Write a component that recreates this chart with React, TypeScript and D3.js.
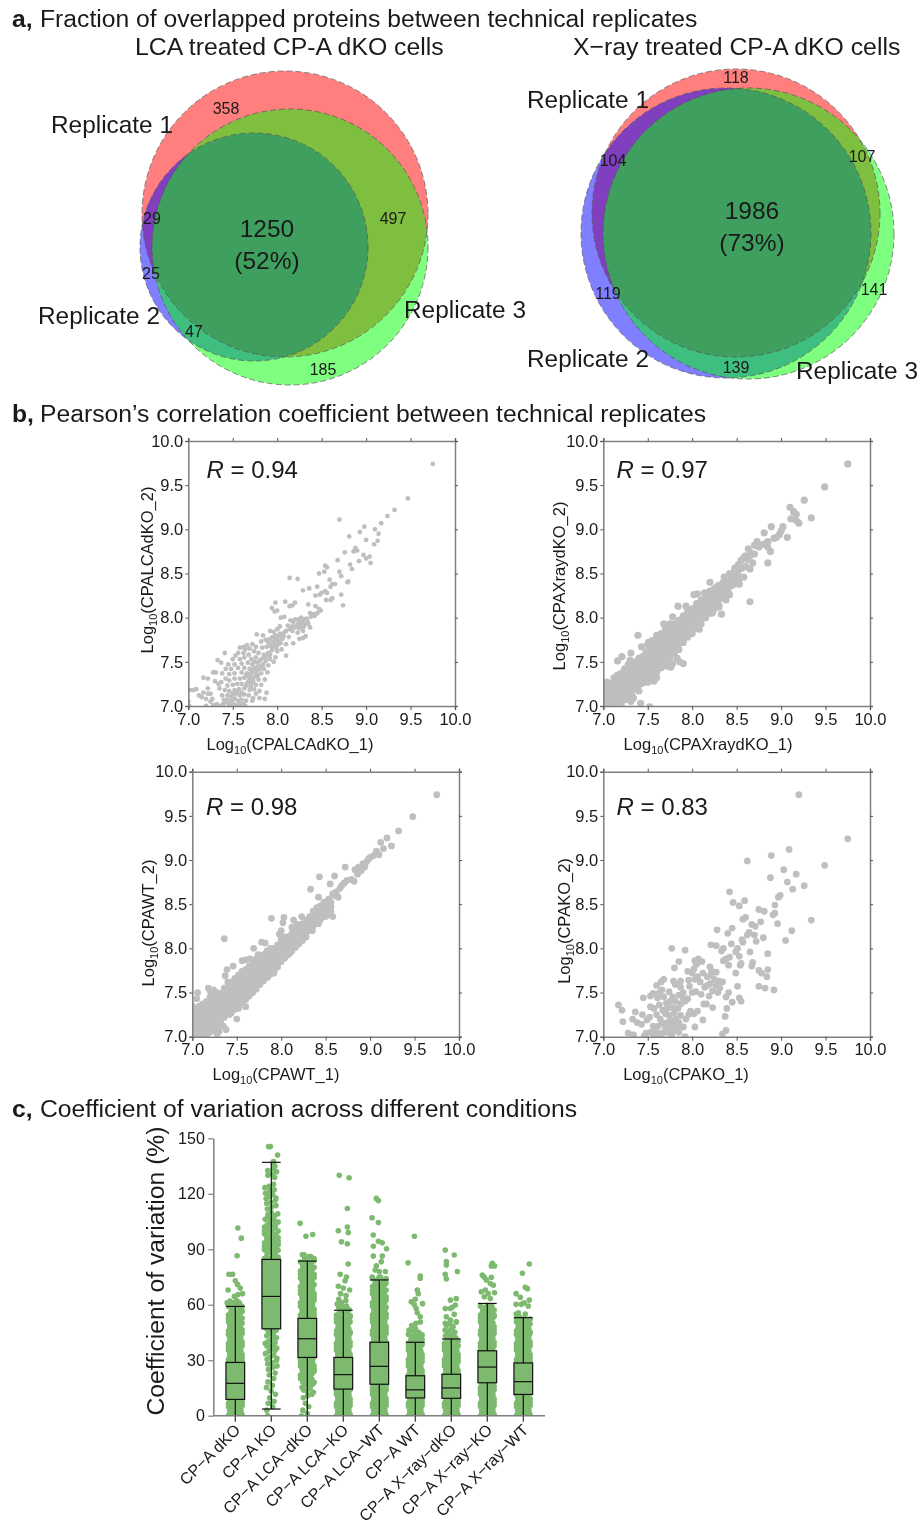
import React, { useRef, useLayoutEffect } from 'react'
import * as d3 from 'd3'

const FONT = '"Liberation Sans", Arial, sans-serif'
const TEXT = '#1a1a1a'
const AXIS = '#7f7f7f'

// ---- panel a
const vennFills = ['#ff0000', '#0000ff', '#00ff00']
const lcaCircles = [[285, 214, 143], [254, 247, 114], [290, 247, 138]]
const xrayCircles = [[736, 213, 144], [726, 233, 145], [748.5, 233.5, 145.5]]
const lcaCounts = ['358', '29', '497', '25', '47', '185']
const lcaCountSpots = [[226, 114], [152, 224], [393, 224], [151, 279], [194, 337], [323, 375]]
const xrayCounts = ['118', '104', '107', '119', '141', '139']
const xrayCountSpots = [[736, 83], [613, 166], [862, 162], [608, 299], [874, 295], [736, 373]]

// ---- panel b
const scatterTicks = [7, 7.5, 8, 8.5, 9, 9.5, 10]

const lcaPoints = [
  [9.75,9.74],[9.47,9.35],[9.32,9.22],[9.24,9.15],[9.17,9.07],[8.7,9.11],[8.98,9.03],[9.1,9.0],[8.93,8.97],[9.14,8.95],
  [8.81,8.92],[9.0,8.88],[9.13,8.87],[9.09,8.83],[8.88,8.79],[8.9,8.76],[8.86,8.75],[8.76,8.74],[8.97,8.71],[9.04,8.69],
  [9.0,8.67],[8.68,8.65],[8.92,8.64],[8.82,8.6],[9.05,8.62],[8.54,8.59],[8.56,8.57],[8.84,8.55],[8.53,8.52],[8.7,8.52],
  [8.72,8.47],[8.47,8.5],[8.14,8.45],[8.23,8.44],[8.59,8.43],[8.79,8.4],[8.8,8.41],[8.62,8.38],[8.65,8.38],[8.6,8.35],
  [8.36,8.33],[8.45,8.35],[8.29,8.31],[8.72,8.26],[8.54,8.3],[8.56,8.28],[8.5,8.28],[8.43,8.25],[8.48,8.26],[8.62,8.22],
  [8.55,8.2],[8.6,8.2],[8.74,8.14],[8.09,8.18],[7.98,8.17],[8.2,8.17],[8.17,8.14],[8.14,8.13],[8.35,8.15],[8.43,8.13],
  [7.94,8.11],[8.0,8.08],[7.97,8.07],[8.47,8.1],[8.49,8.08],[8.45,8.05],[8.4,8.04],[8.37,8.05],[8.08,8.01],[8.04,8.0],
  [8.42,8.02],[8.38,8.01],[8.33,7.99],[8.3,7.98],[8.27,8.0],[8.2,7.98],[8.15,7.97],[8.18,7.95],[8.24,7.94],[8.28,7.95],
  [8.34,7.96],[8.12,7.91],[8.22,7.91],[8.27,7.91],[8.32,7.93],[8.37,7.89],[8.25,7.88],[8.03,7.9],[8.0,7.87],[7.96,7.84],
  [7.92,7.85],[8.03,7.82],[8.08,7.83],[8.17,7.85],[8.23,7.83],[8.29,7.85],[8.04,7.79],[8.01,7.79],[7.98,7.8],[7.95,7.78],
  [7.77,7.81],[7.84,7.8],[7.87,7.75],[7.92,7.76],[7.99,7.75],[8.06,7.76],[8.13,7.78],[8.25,7.76],[8.29,7.77],[8.32,7.79],
  [7.82,7.73],[7.9,7.72],[7.95,7.72],[8.04,7.71],[8.1,7.7],[8.18,7.71],[7.72,7.7],[7.66,7.69],[7.62,7.67],[7.58,7.66],
  [7.64,7.64],[7.69,7.65],[7.76,7.67],[7.83,7.66],[7.88,7.67],[7.92,7.68],[7.99,7.66],[8.05,7.64],[8.0,7.62],[7.94,7.63],
  [7.41,7.6],[7.53,7.57],[7.56,7.6],[7.62,7.6],[7.68,7.58],[7.74,7.62],[7.79,7.6],[7.85,7.58],[7.9,7.6],[8.1,7.57],
  [7.98,7.55],[7.92,7.53],[7.33,7.52],[7.37,7.49],[7.5,7.53],[7.58,7.53],[7.63,7.55],[7.71,7.53],[7.76,7.55],[7.82,7.53],
  [7.87,7.51],[7.96,7.5],[7.45,7.47],[7.52,7.47],[7.6,7.48],[7.67,7.49],[7.72,7.47],[7.78,7.49],[7.84,7.47],[7.9,7.46],
  [7.28,7.38],[7.31,7.38],[7.42,7.42],[7.48,7.42],[7.56,7.43],[7.63,7.43],[7.69,7.42],[7.75,7.43],[7.8,7.42],[7.85,7.42],
  [7.38,7.37],[7.46,7.36],[7.52,7.37],[7.6,7.38],[7.66,7.37],[7.71,7.38],[7.76,7.37],[7.82,7.37],[7.89,7.38],[7.17,7.32],
  [7.22,7.31],[7.3,7.28],[7.34,7.25],[7.37,7.27],[7.42,7.31],[7.46,7.29],[7.52,7.31],[7.58,7.31],[7.63,7.32],[7.68,7.33],
  [7.72,7.31],[7.79,7.3],[7.86,7.3],[7.35,7.2],[7.44,7.23],[7.5,7.24],[7.55,7.25],[7.6,7.25],[7.66,7.26],[7.71,7.25],
  [7.76,7.24],[7.82,7.24],[7.88,7.15],[7.22,7.2],[7.41,7.18],[7.46,7.17],[7.52,7.18],[7.57,7.19],[7.63,7.2],[7.69,7.18],
  [7.74,7.19],[7.8,7.17],[7.38,7.12],[7.44,7.12],[7.48,7.11],[7.53,7.13],[7.58,7.12],[7.63,7.13],[7.68,7.12],[7.73,7.09],
  [7.76,7.14],[7.02,7.18],[7.06,7.18],[7.09,7.19],[7.12,7.12],[7.17,7.15],[7.22,7.14],[7.25,7.14],[7.15,7.1],[7.2,7.08],
  [7.27,7.08],[7.25,7.05],[7.0,7.05],[7.4,7.07],[7.44,7.07],[7.48,7.06],[7.52,7.08],[7.56,7.06],[7.6,7.07],[7.65,7.06],
  [7.28,7.01],[7.32,7.02],[7.36,7.0],[7.2,7.0],[7.42,7.04],[7.39,7.02],[7.46,7.02],[7.5,7.03],[7.54,7.01],[7.58,7.02],
  [7.62,7.02],[7.64,7.0],[7.54,7.0],[7.47,7.0],[7.01,7.0],[7.72,7.06],[7.86,7.08],[7.8,7.09],
  [7.5,7.14],[7.55,7.16],[7.6,7.15],[7.65,7.23],[7.7,7.22],[7.68,7.28],[7.73,7.28],[7.75,7.33],[7.78,7.34],[7.7,7.35],
  [7.65,7.34],[7.72,7.41],[7.77,7.4],[7.82,7.45],[7.78,7.44],[7.74,7.5],[7.8,7.51],[7.85,7.55],[7.88,7.56],[7.92,7.58],
  [7.95,7.66],[7.97,7.69],[8.01,7.7],[8.02,7.74],[8.05,7.8],[7.99,7.78],[7.97,7.74],[8.07,7.79],[8.1,7.85],[8.14,7.87],
  [8.17,7.9],[8.2,7.89],[8.24,7.98],[8.3,7.9],[8.35,7.93],
]

const xrayCore = [
  [7.0,[7.0,7.05,7.1,7.15,7.2,7.25]],[7.04,[7.02,7.07,7.12,7.17,7.22,7.27]],[7.08,[7.0,7.05,7.1,7.15,7.2,7.25]],
  [7.12,[7.02,7.07,7.12,7.17,7.22,7.27,7.32]],[7.16,[7.0,7.05,7.1,7.15,7.2,7.25,7.3,7.35]],[7.2,[7.02,7.07,7.12,7.17,7.22,7.27,7.32,7.37]],
  [7.24,[7.07,7.12,7.17,7.22,7.27,7.32,7.37,7.42]],[7.28,[7.12,7.17,7.22,7.27,7.32,7.37,7.42,7.47]],[7.32,[7.14,7.19,7.24,7.29,7.34,7.39,7.44,7.49]],
  [7.36,[7.2,7.25,7.3,7.35,7.4,7.45,7.5]],[7.4,[7.24,7.29,7.34,7.39,7.44,7.49,7.54]],[7.44,[7.26,7.31,7.36,7.41,7.46,7.51,7.56]],
  [7.48,[7.31,7.36,7.41,7.46,7.51,7.56,7.61]],[7.52,[7.36,7.41,7.46,7.51,7.56,7.61,7.66]],[7.56,[7.4,7.45,7.5,7.55,7.6,7.65,7.7]],
  [7.6,[7.44,7.49,7.54,7.59,7.64,7.69,7.74]],[7.64,[7.48,7.53,7.58,7.63,7.68,7.73,7.78]],[7.68,[7.52,7.57,7.62,7.67,7.72,7.77,7.82]],
  [7.72,[7.56,7.61,7.66,7.71,7.76,7.81,7.86]],[7.76,[7.6,7.65,7.7,7.75,7.8,7.85]],[7.8,[7.64,7.69,7.74,7.79,7.84,7.89]],
  [7.84,[7.68,7.73,7.78,7.83,7.88,7.93]],[7.88,[7.74,7.79,7.84,7.89,7.94,7.98]],[7.92,[7.79,7.84,7.89,7.94,7.99]],
  [7.96,[7.84,7.89,7.94,7.99,8.03]],[8.0,[7.88,7.93,7.98,8.03,8.07]],[8.04,[7.92,7.97,8.02,8.07,8.12]],
  [8.08,[7.96,8.01,8.06,8.11,8.16]],[8.12,[8.0,8.05,8.1,8.15,8.2]],[8.16,[8.06,8.11,8.16,8.21]],
  [8.2,[8.12,8.17,8.22,8.27]],[8.24,[8.15,8.2,8.25,8.3]],[8.28,[8.18,8.23,8.28,8.33]],[8.32,[8.22,8.27,8.32]],
  [8.36,[8.26,8.31,8.36]],[8.4,[8.3,8.35,8.4]],[8.44,[8.36,8.41,8.45]],[8.48,[8.38,8.43,8.48]],[8.52,[8.42,8.47,8.54]],
]
const xraySparse = [
  [9.75,9.74],[9.49,9.48],[9.34,9.13],[9.26,9.33],[9.2,9.07],[9.1,9.25],[9.14,9.2],[9.17,9.17],[9.11,9.12],[9.17,9.1],
  [9.07,8.91],[9.02,9.03],[9.0,8.98],[8.89,9.03],[8.98,8.94],[8.81,8.96],[8.73,8.86],[8.85,8.86],[8.92,8.9],[8.95,8.91],
  [8.8,8.83],[8.88,8.75],[8.85,8.8],[8.7,8.82],[8.63,8.78],[8.65,8.7],[8.85,8.62],[8.55,8.65],[8.6,8.7],[8.7,8.72],
  [8.75,8.8],[8.66,8.73],[8.62,8.66],[8.58,8.68],[8.56,8.56],[8.6,8.58],[8.65,8.55],[8.68,8.62],[8.52,8.6],[8.48,8.56],
  [8.65,8.18],[8.33,8.04],[8.23,8.06],[8.2,8.4],[8.36,8.46],[8.02,8.26],[8.06,8.27],[7.84,8.13],[7.93,8.13],[7.78,8.01],
  [7.68,7.93],[7.75,7.93],[7.39,7.8],[7.43,7.67],[7.51,7.72],[7.6,7.8],[7.21,7.56],[7.16,7.51],[7.31,7.6],[7.3,7.52],
  [7.9,7.48],[7.83,7.54],[7.86,7.5],[7.78,7.48],[7.72,7.45],[7.76,7.44],[7.6,7.32],[7.57,7.28],[7.4,7.17],[7.34,7.09],
  [7.31,7.05],[7.42,7.03],[7.52,6.99],[8.08,7.87],[8.28,8.35],[8.3,8.12],[8.38,8.2],[8.22,8.05],[8.14,8.28],[8.42,8.26],
  [8.47,8.52],[8.53,8.38],[8.58,8.46],[8.42,8.5],
  [7.5,7.7],[7.55,7.74],[7.6,7.78],[7.65,7.82],[7.7,7.88],[7.75,7.9],[7.8,7.93],[7.85,7.97],[7.9,8.02],[7.95,8.07],
  [8.0,8.1],[8.05,8.16],[8.1,8.2],[8.15,8.25],[8.2,8.3],[8.25,8.33],[8.3,8.37],[8.35,8.4],
  [7.5,7.27],[7.55,7.33],[7.6,7.38],[7.65,7.43],[7.7,7.5],[7.75,7.55],[7.8,7.6],[7.85,7.64],[7.9,7.72],[7.95,7.78],
  [8.0,7.82],[8.05,7.88],[8.1,7.93],[8.15,8.0],[8.2,8.05],[8.25,8.1],[8.3,8.14],
]

const wtCore = [
  [7.0,[7.0,7.05,7.1,7.15,7.2,7.25,7.3,7.35]],[7.04,[7.02,7.07,7.12,7.17,7.22,7.27,7.32]],[7.08,[7.0,7.05,7.1,7.15,7.2,7.25,7.3,7.35]],
  [7.12,[7.02,7.07,7.12,7.17,7.22,7.27,7.32,7.37]],[7.16,[7.0,7.05,7.1,7.15,7.2,7.25,7.3,7.35,7.4]],[7.2,[7.05,7.1,7.15,7.2,7.25,7.3,7.35,7.4,7.45]],
  [7.24,[7.07,7.12,7.17,7.22,7.27,7.32,7.37,7.42,7.47]],[7.28,[7.1,7.15,7.2,7.25,7.3,7.35,7.4,7.45,7.5]],[7.32,[7.14,7.19,7.24,7.29,7.34,7.39,7.44,7.49]],
  [7.36,[7.22,7.27,7.32,7.37,7.42,7.47,7.52]],[7.4,[7.27,7.32,7.37,7.42,7.47,7.52,7.57]],[7.44,[7.32,7.37,7.42,7.47,7.52,7.57]],
  [7.48,[7.36,7.41,7.46,7.51,7.56,7.61]],[7.52,[7.4,7.45,7.5,7.55,7.6,7.65]],[7.56,[7.44,7.49,7.54,7.59,7.64,7.69]],
  [7.6,[7.46,7.51,7.56,7.61,7.66,7.71]],[7.64,[7.5,7.55,7.6,7.65,7.7,7.75]],[7.68,[7.55,7.6,7.65,7.7,7.75,7.8]],
  [7.72,[7.58,7.63,7.68,7.73,7.78,7.83]],[7.76,[7.64,7.69,7.74,7.79,7.84]],[7.8,[7.68,7.73,7.78,7.83,7.88]],
  [7.84,[7.72,7.77,7.82,7.87,7.92]],[7.88,[7.76,7.81,7.86,7.91,7.96]],[7.92,[7.8,7.85,7.9,7.95]],
  [7.96,[7.84,7.89,7.94,7.99]],[8.0,[7.9,7.95,8.0,8.05]],[8.04,[7.94,7.99,8.04,8.09]],[8.08,[7.98,8.03,8.08]],
  [8.12,[8.02,8.07,8.12]],[8.16,[8.06,8.11,8.16]],[8.2,[8.1,8.15,8.2]],[8.24,[8.13,8.18,8.23]],[8.28,[8.18,8.23,8.28]],
  [8.32,[8.2,8.25,8.3,8.36]],[8.36,[8.25,8.3,8.35,8.42]],[8.4,[8.3,8.35,8.4,8.46]],[8.44,[8.32,8.37,8.42,8.48]],
  [8.48,[8.36,8.41,8.46,8.52]],[8.52,[8.38,8.43,8.48,8.54]],[8.56,[8.42,8.47,8.52]],
]
const wtSparse = [
  [9.75,9.74],[9.48,9.49],[9.32,9.33],[9.19,9.25],[9.12,9.2],[9.24,9.16],[9.15,9.13],[9.07,9.1],[9.1,9.06],[9.04,9.05],
  [9.0,9.03],[8.96,8.98],[8.98,9.01],[8.92,8.96],[8.87,8.92],[8.83,8.89],[8.9,8.88],[8.94,8.92],[8.86,8.84],[8.72,8.92],
  [8.79,8.78],[8.82,8.76],[8.74,8.77],[8.71,8.74],[8.68,8.71],[8.62,8.64],[8.66,8.68],[8.6,8.6],[8.64,8.58],[8.58,8.62],
  [8.43,8.81],[8.6,8.82],[8.55,8.73],[8.33,8.67],[8.42,8.58],[8.5,8.5],[8.54,8.56],[7.89,8.34],[8.03,8.35],[8.02,8.29],
  [7.36,8.11],[8.14,8.32],[8.18,8.27],[8.12,8.24],[8.23,8.36],[8.0,8.2],[7.98,8.16],[7.78,8.07],[7.82,8.06],[7.69,8.0],
  [7.74,7.93],[7.56,7.86],[7.6,7.87],[7.65,7.88],[7.46,7.8],[7.39,7.76],[7.37,7.69],[7.41,7.6],[7.18,7.55],[7.2,7.52],
  [7.06,7.5],[7.05,7.43],[7.24,7.53],[7.48,7.32],[7.6,7.34],[7.52,7.32],[7.43,7.3],[7.5,7.2],[7.42,7.25],[7.35,7.12],
  [7.38,7.08],[7.3,7.06],[7.28,7.03],[7.69,7.6],[7.76,7.68],[7.9,7.78],[7.85,7.68],[7.92,7.72],[8.1,7.95],[8.12,8.0],
  [8.5,8.36],[8.38,8.4],[8.58,8.36],[8.42,8.28],[8.35,8.2],
  [7.36,7.55],[7.4,7.62],[7.44,7.62],[7.48,7.66],[7.52,7.7],[7.56,7.74],[7.6,7.76],[7.64,7.8],[7.68,7.84],[7.72,7.88],
  [7.76,7.89],[7.8,7.93],[7.84,7.97],[7.88,8.0],[7.92,8.0],[7.96,8.04],[8.0,8.1],[8.04,8.13],[8.08,8.13],[8.12,8.17],
  [8.16,8.2],[8.2,8.25],[8.24,8.28],[8.28,8.32],
  [7.44,7.27],[7.48,7.31],[7.52,7.35],[7.56,7.39],[7.6,7.42],[7.64,7.46],[7.68,7.5],[7.72,7.54],[7.76,7.59],[7.8,7.63],
  [7.84,7.67],[7.88,7.71],[7.92,7.75],[7.96,7.79],[8.0,7.85],[8.04,7.89],[8.08,7.93],[8.12,7.97],[8.16,8.01],[8.2,8.05],
  [8.24,8.09],[8.28,8.13],
]

const koPoints = [
  [9.75,9.24],[9.2,9.74],[9.49,8.94],[9.34,8.32],[9.26,8.71],[9.17,8.84],[9.13,8.67],[9.09,9.12],[9.07,8.75],[9.03,8.89],
  [8.89,9.05],[8.62,8.99],[8.88,8.8],[8.99,8.6],[8.97,8.58],[8.93,8.49],[8.91,8.38],[8.93,8.4],[8.96,8.28],[9.12,8.2],
  [9.05,8.09],[8.42,8.64],[8.46,8.52],[8.59,8.54],[8.53,8.48],[8.75,8.44],[8.81,8.42],[8.6,8.35],[8.57,8.33],[8.67,8.27],
  [8.71,8.25],[8.77,8.3],[8.28,8.21],[8.45,8.23],[8.4,8.17],[8.64,8.18],[8.62,8.15],[8.7,8.15],[8.56,8.1],[8.57,8.07],
  [8.72,8.08],[8.8,8.12],[8.85,7.94],[8.21,8.04],[8.27,8.03],[8.35,8.0],[8.44,8.05],[8.51,8.0],[8.49,7.96],[8.65,7.96],
  [8.33,7.97],[8.42,7.9],[8.38,7.88],[8.35,7.86],[8.53,7.91],[8.55,7.83],[8.54,7.81],[8.68,7.84],[8.67,7.8],[8.41,7.81],
  [8.75,7.75],[8.78,7.72],[8.85,7.76],[8.84,7.68],[8.75,7.57],[8.82,7.55],[8.92,7.53],[8.49,7.72],[7.77,8.0],[7.92,7.98],
  [7.85,7.85],[8.07,7.88],[8.03,7.86],[8.05,7.82],[8.11,7.85],[7.8,7.78],[7.95,7.74],[8.02,7.77],[8.2,7.79],[8.22,7.74],
  [8.27,7.73],[8.12,7.72],[8.0,7.72],[8.06,7.68],[8.17,7.68],[8.21,7.7],[8.25,7.65],[8.3,7.63],[7.68,7.65],[7.65,7.62],
  [7.6,7.58],[7.87,7.63],[7.79,7.63],[7.96,7.64],[8.03,7.65],[8.09,7.62],[8.2,7.6],[8.27,7.58],[8.31,7.55],[7.66,7.53],
  [7.81,7.59],[7.97,7.57],[8.14,7.56],[8.17,7.58],[8.23,7.52],[8.29,7.5],[8.41,7.5],[8.51,7.57],[8.34,7.62],[8.0,7.5],
  [8.04,7.51],[7.56,7.49],[7.63,7.5],[7.74,7.51],[7.9,7.5],[7.87,7.56],[8.1,7.48],[8.19,7.46],[8.38,7.45],[8.53,7.44],
  [8.55,7.4],[8.45,7.39],[8.39,7.32],[8.23,7.33],[8.13,7.37],[8.16,7.37],[7.45,7.44],[7.53,7.46],[7.61,7.44],[7.68,7.45],
  [7.78,7.45],[7.85,7.47],[7.9,7.43],[7.95,7.43],[7.17,7.36],[7.21,7.3],[7.36,7.28],[7.53,7.34],[7.57,7.32],[7.63,7.36],
  [7.71,7.38],[7.75,7.4],[7.81,7.4],[7.87,7.37],[7.92,7.4],[7.67,7.3],[7.72,7.32],[7.78,7.33],[7.84,7.32],[7.98,7.29],
  [8.06,7.29],[8.02,7.26],[7.22,7.17],[7.33,7.2],[7.38,7.16],[7.43,7.14],[7.44,7.25],[7.49,7.19],[7.52,7.22],[7.6,7.25],
  [7.64,7.2],[7.7,7.26],[7.74,7.24],[7.8,7.27],[7.87,7.24],[7.93,7.2],[7.96,7.25],[8.12,7.19],[8.37,7.23],[8.38,7.07],
  [7.56,7.12],[7.62,7.12],[7.66,7.16],[7.72,7.16],[7.76,7.18],[7.81,7.2],[7.85,7.16],[7.7,7.11],[7.75,7.1],[7.8,7.13],
  [7.83,7.09],[7.9,7.11],[8.03,7.11],[7.28,7.04],[7.34,7.02],[7.48,7.04],[7.53,7.05],[7.58,7.07],[7.62,7.04],[7.68,7.05],
  [7.72,7.05],[7.78,7.06],[7.85,7.05],[7.57,7.0],[7.65,7.01],[7.77,7.01],[7.92,7.0],[8.34,7.03],[7.46,7.01],
]

const expand = (core: any[]) => core.flatMap(([x, ys]: any) => ys.map((y: number) => [x, y]))

const scatterPanels = [
  { points: lcaPoints, r: 2.4, R: '0.94', x0: 188.3, y0: 441, rx: 206.5, ry: 478,
    xName: '(CPALCAdKO_1)', yName: '(CPALCAdKO_2)', xl: [290, 750], yl: [153, 570] },
  { points: [...expand(xrayCore), ...xraySparse], r: 3.6, R: '0.97', x0: 603.3, y0: 441, rx: 616.5, ry: 478,
    xName: '(CPAXraydKO_1)', yName: '(CPAXraydKO_2)', xl: [708, 750], yl: [565, 586] },
  { points: [...expand(wtCore), ...wtSparse], r: 3.4, R: '0.98', x0: 192.3, y0: 771.7, rx: 206, ry: 815,
    xName: '(CPAWT_1)', yName: '(CPAWT_2)', xl: [276, 1080], yl: [154, 923] },
  { points: koPoints, r: 3.4, R: '0.83', x0: 603.3, y0: 771.7, rx: 616.5, ry: 815,
    xName: '(CPAKO_1)', yName: '(CPAKO_2)', xl: [686, 1080], yl: [570, 921] },
]

// ---- panel c
const conditions = ['CP−A dKO', 'CP−A KO', 'CP−A LCA−dKO', 'CP−A LCA−KO', 'CP−A LCA−WT', 'CP−A WT', 'CP−A X−ray−dKO', 'CP−A X−ray−KO', 'CP−A X−ray−WT']
const cvTicks = [0, 30, 60, 90, 120, 150]
const whiskerLow = [0, 3.6, 0, 0, 0, 0, 0, 0, 0]
const quartile1 = [8.8, 47, 31.5, 14.4, 17, 9.6, 9.4, 17.8, 11.5]
const medians = [17.5, 64.5, 41.6, 22.2, 26.7, 14, 15, 26.3, 18.4]
const quartile3 = [28.8, 84.5, 52.6, 31.5, 39.7, 21.6, 22.4, 35.1, 28.5]
const whiskerHigh = [59.1, 137, 83.6, 57, 73.4, 39.7, 41.5, 60.7, 53]

// dots counted per 3 % CV bin, starting at 0
const binCounts = [
  [12,12,12,12,12,12,12,12,12,12,12,12,12,12,12,12,11,9,8,6,4],
  [1,2,2,2,1,2,2,2,3,3,4,4,4,4,4,5,7,8,8,8,8,8,8,8,8,8,8,7,7,6,7,7,7,6,6,5,4,3,3,4,3,3,1,3,2,1],
  [2,2,1,3,4,5,7,8,10,10,10,10,10,10,10,10,10,10,10,10,10,10,10,10,9,9,8,7,3],
  [12,12,12,12,12,12,12,12,12,12,12,12,12,12,12,11,9,7,6,5,3],
  [12,12,12,12,12,12,12,12,12,12,12,12,12,12,12,12,12,12,12,11,10,10,9,8,6],
  [12,12,12,12,12,12,12,12,12,12,12,12,10,8,6,4,3],
  [12,12,12,12,12,12,12,12,12,12,12,12,12,10,5,4,4],
  [12,12,12,12,12,12,12,12,12,12,12,12,12,12,12,12,12,10,9,7],
  [12,12,12,12,12,12,12,12,12,12,12,12,12,12,12,11,8,6],
]
// single dots above the dense bins: [CV, offset from the box centre, -1..1]
const looseDots = [
  [[101.5,0.28],[96,0.67],[86.5,0.2],[76.5,-0.7],[76.5,-0.3],[73,0],[71,0.25],[69,0.55],[68,-0.8],[66,0.8],[65.5,0.3],[64.5,-0.1],[62,-0.6],[61,-0.9],[61,-0.3],[61,0.45]],
  [[145.5,-0.3],[145.5,-0.1],[141,0.7],[137,0.2],[135,0.4]],
  [[104,-0.8],[97,-0.15],[98,0.6],[87,-0.55],[87,-0.35],[86,0.4],[85,0.75]],
  [[130,-0.45],[128.7,0.65],[112,0.45],[102,0.45],[100,-0.55],[99,0.55],[94,-0.2],[93,0.45],[82,0.55],[76.5,-0.35],[75,0.35],[73,0.2],[70,-0.55],[69,0],[68,0.7],[66,-0.3],[65,0.3],[63,-0.5]],
  [[117.5,-0.33],[116.3,-0.1],[107,-0.8],[104.5,-0.1],[97.7,-0.67],[94.3,-0.1],[93.5,0.33],[90.3,0.8],[91.6,-0.67],[86.3,-0.67],[86.3,0.33],[83.3,0.22],[81,-0.33],[78,0.67],[78.8,-0.45],[78,0],[75,-0.8],[75,0]],
  [[97,-0.1],[82.7,-0.8],[75.5,0.55],[74.3,0.55],[68,0.22],[66,0.33],[63,0],[61.6,-0.45],[60.6,0.8],[60,-0.1],[58,0.1],[55.7,0.22],[53.5,0.55]],
  [[89.6,-0.67],[86.9,0.33],[83.3,-0.55],[81.5,-0.55],[78,0.67],[76.4,-0.67],[74,-0.55],[62.5,-0.1],[63.3,0.55],[59.8,0.45],[58,-0.67],[58,-0.1],[58.6,0.1],[54.8,0.33],[53.5,-0.55],[51.7,-0.1],[50.8,0.55],[50,-0.67]],
  [[82.4,0.55],[81,0.8],[81,0.45],[76,-0.55],[74.8,-0.33],[74.8,0.45],[73.4,-0.1],[71.5,0.33],[70.6,0.67],[68,-0.22],[67,-0.67],[66,0.1],[66.5,0.8],[64.3,-0.33],[63.4,0.33]],
  [[82,0.67],[77,-0.1],[69.4,0.22],[68.7,0.45],[66,-0.8],[64,-0.33],[62.5,0.67],[60.2,-0.8],[60.2,-0.22],[61,0.1],[59.3,0.55],[55.7,-0.55],[55,0.22],[55,-0.8]],
]

const BIN = 3
function binDots(counts: number[]) {
  // spreads each bin's dots evenly across the column, scattering them inside the bin
  return counts.flatMap((n, i) => {
    const half = n >= 6 ? 0.76 : n >= 3 ? 0.72 : n === 2 ? 0.65 : 0.4
    const phase = (i * 0.618) % 1
    return d3.range(n).map((k) => {
      const t = n > 1 ? k / (n - 1) : (phase + 0.5) % 1
      const v = (phase + k * 0.382) % 1
      const flip = n < 6 ? (phase + k / n) % 1 : t
      return [i * BIN + BIN * v, (flip * 2 - 1) * half]
    })
  })
}

const Log = ({ name }: { name: string }) => (
  <>
    Log<tspan dy={3.5} fontSize={11}>10</tspan><tspan dy={-3.5}>{name}</tspan>
  </>
)

const Scatter = ({ p, i }: any) => {
  const size = 266.7
  const h = 265
  const x = d3.scaleLinear().domain([7, 10]).range([p.x0, p.x0 + size])
  const y = d3.scaleLinear().domain([7, 10]).range([p.y0 + h, p.y0])
  const g = useRef<SVGGElement>(null)

  useLayoutEffect(() => {
    const root = d3.select(g.current)
    root.selectAll('*').remove()
    const fmt = d3.format('.1f')
    const put = (axis: any, tx: number, ty: number, labels: boolean, tick: number, pad: number) => {
      const a = root.append('g').attr('transform', `translate(${tx},${ty})`)
        .call(axis.tickValues(scatterTicks).tickSizeOuter(0).tickSize(tick).tickPadding(pad)
          .tickFormat(labels ? fmt : () => ''))
      a.select('.domain').attr('stroke', AXIS).attr('stroke-width', 1.5)
      a.selectAll('.tick line').attr('stroke', '#555').attr('stroke-width', 1)
      a.selectAll('text').attr('font-family', FONT).attr('font-size', 16.5).attr('fill', TEXT)
    }
    put(d3.axisTop(x), 0, p.y0, false, 3, 3)
    put(d3.axisRight(y), p.x0 + size, 0, false, 3, 3)
    put(d3.axisLeft(y), p.x0, 0, true, 3, 2)
    put(d3.axisBottom(x), 0, p.y0 + h, true, 4, 3)
  }, [])

  return (
    <g fontFamily={FONT} fill={TEXT}>
      <clipPath id={`plot-${i}`}>
        <rect x={p.x0} y={p.y0} width={size} height={h} />
      </clipPath>
      <g clipPath={`url(#plot-${i})`}>
        {p.points.map((d: number[], k: number) => (
          <circle key={k} cx={x(d[0])} cy={y(d[1])} r={p.r} fill="#bfbfbf" />
        ))}
      </g>
      <g ref={g} />
      <text x={p.rx} y={p.ry} fontSize={24}>
        <tspan fontStyle="italic">R</tspan> = {p.R}
      </text>
      <text x={p.xl[0]} y={p.xl[1]} fontSize={16.5} textAnchor="middle"><Log name={p.xName} /></text>
      <text transform={`translate(${p.yl[0]},${p.yl[1]}) rotate(-90)`} fontSize={16.5} textAnchor="middle"><Log name={p.yName} /></text>
    </g>
  )
}

const Venn = ({ circles, counts, spots, total, pct, totalX, totalY, title, titleX, labels }: any) => (
  <g fontFamily={FONT} fill={TEXT}>
    <text x={titleX} y={55} fontSize={24.8}>{title}</text>
    {circles.map((c: number[], i: number) => (
      <circle key={i} cx={c[0]} cy={c[1]} r={c[2]} fill={vennFills[i]} fillOpacity={0.5} />
    ))}
    {circles.map((c: number[], i: number) => (
      <circle key={i} cx={c[0]} cy={c[1]} r={c[2]} fill="none" stroke="#555" strokeWidth={0.7} strokeDasharray="6 3" />
    ))}
    {counts.map((t: string, i: number) => (
      <text key={i} x={spots[i][0]} y={spots[i][1]} fontSize={16} textAnchor="middle">{t}</text>
    ))}
    <text x={totalX} y={totalY} fontSize={24.5} textAnchor="middle">{total}</text>
    <text x={totalX} y={totalY + 32} fontSize={24.5} textAnchor="middle">{pct}</text>
    {labels.map((l: any[], i: number) => (
      <text key={i} x={l[1]} y={l[2]} fontSize={24.4}>{l[0]}</text>
    ))}
  </g>
)

const Strip = () => {
  const x = d3.scaleBand().domain(conditions).range([217.3, 541.3])
  const y = d3.scaleLinear().domain([0, 150]).range([1415.7, 1138.3])
  const jitter = d3.scaleLinear().domain([-1, 1]).range([-9, 9])
  const cx = (c: string) => (x(c) as number) + x.bandwidth() / 2
  const boxW = 18.7
  const ax = useRef<SVGGElement>(null)

  useLayoutEffect(() => {
    const root = d3.select(ax.current)
    root.selectAll('*').remove()
    const left = root.append('g').attr('transform', 'translate(213.3,0)')
      .call(d3.axisLeft(y).tickValues(cvTicks).tickSize(5).tickSizeOuter(0).tickPadding(3.5))
    const bottom = root.append('g').attr('transform', 'translate(0,1415.7)')
      .call(d3.axisBottom(x).tickSize(6).tickSizeOuter(0).tickFormat(() => ''))
    bottom.select('.domain').attr('d', 'M213.3,0H545')
    root.selectAll('.domain').attr('stroke', AXIS).attr('stroke-width', 1.5)
    left.selectAll('.tick line').attr('stroke', AXIS).attr('stroke-width', 1.2)
    bottom.selectAll('.tick line').attr('stroke', '#333').attr('stroke-width', 1.2)
    left.selectAll('text').attr('font-family', FONT).attr('font-size', 16).attr('fill', TEXT)
  }, [])

  return (
    <g fontFamily={FONT} fill={TEXT}>
      <clipPath id="strip-floor"><rect x={213} y={1100} width={340} height={315.7} /></clipPath>
      <g clipPath="url(#strip-floor)">
        {conditions.map((c, i) => (
          <g key={c}>
            {[...binDots(binCounts[i]), ...looseDots[i]].map((d, k) => (
              <circle key={k} cx={cx(c) + jitter(d[1])} cy={y(d[0])} r={2.8} fill="#7dba6f" />
            ))}
          </g>
        ))}
      </g>
      {conditions.map((c, i) => (
        <g key={c} stroke="#111" strokeWidth={1.2} fill="none">
          <line x1={cx(c)} x2={cx(c)} y1={y(whiskerHigh[i])} y2={y(whiskerLow[i])} />
          <line x1={cx(c) - boxW / 2} x2={cx(c) + boxW / 2} y1={y(whiskerHigh[i])} y2={y(whiskerHigh[i])} />
          {whiskerLow[i] > 0 && <line x1={cx(c) - boxW / 2} x2={cx(c) + boxW / 2} y1={y(whiskerLow[i])} y2={y(whiskerLow[i])} />}
          <rect x={cx(c) - boxW / 2} width={boxW} y={y(quartile3[i])} height={y(quartile1[i]) - y(quartile3[i])} fill="#7dba6f" />
          <line x1={cx(c) - boxW / 2} x2={cx(c) + boxW / 2} y1={y(medians[i])} y2={y(medians[i])} />
        </g>
      ))}
      <g ref={ax} />
      {conditions.map((c) => (
        <text key={c} transform={`translate(${cx(c) + 6},1431) rotate(-45)`} fontSize={16} textAnchor="end">{c}</text>
      ))}
      <text transform="translate(164,1271) rotate(-90)" fontSize={24.7} textAnchor="middle">Coefficient of variation (%)</text>
    </g>
  )
}

const Heading = ({ tag, text, y }: any) => (
  <g fontFamily={FONT} fill={TEXT} fontSize={24.7}>
    <text x={12} y={y} fontWeight="bold">{tag}</text>
    <text x={40} y={y}>{text}</text>
  </g>
)

export default function App() {
  return (
    <svg width={923} height={1524} style={{ position: 'absolute', left: 0, top: 0, background: '#fff', filter: 'blur(0.35px)' }}>
      <Heading tag="a," text="Fraction of overlapped proteins between technical replicates" y={27} />
      <Venn circles={lcaCircles} counts={lcaCounts} spots={lcaCountSpots} total="1250" pct="(52%)" totalX={267} totalY={237}
        title="LCA treated CP-A dKO cells" titleX={135}
        labels={[['Replicate 1', 51, 133], ['Replicate 2', 38, 324], ['Replicate 3', 404, 318]]} />
      <Venn circles={xrayCircles} counts={xrayCounts} spots={xrayCountSpots} total="1986" pct="(73%)" totalX={752} totalY={219}
        title="X−ray treated CP-A dKO cells" titleX={573}
        labels={[['Replicate 1', 527, 108], ['Replicate 2', 527, 367], ['Replicate 3', 796, 379]]} />
      <Heading tag="b," text="Pearson’s correlation coefficient between technical replicates" y={422} />
      {scatterPanels.map((p, i) => <Scatter key={i} p={p} i={i} />)}
      <Heading tag="c," text="Coefficient of variation across different conditions" y={1117} />
      <Strip />
    </svg>
  )
}
